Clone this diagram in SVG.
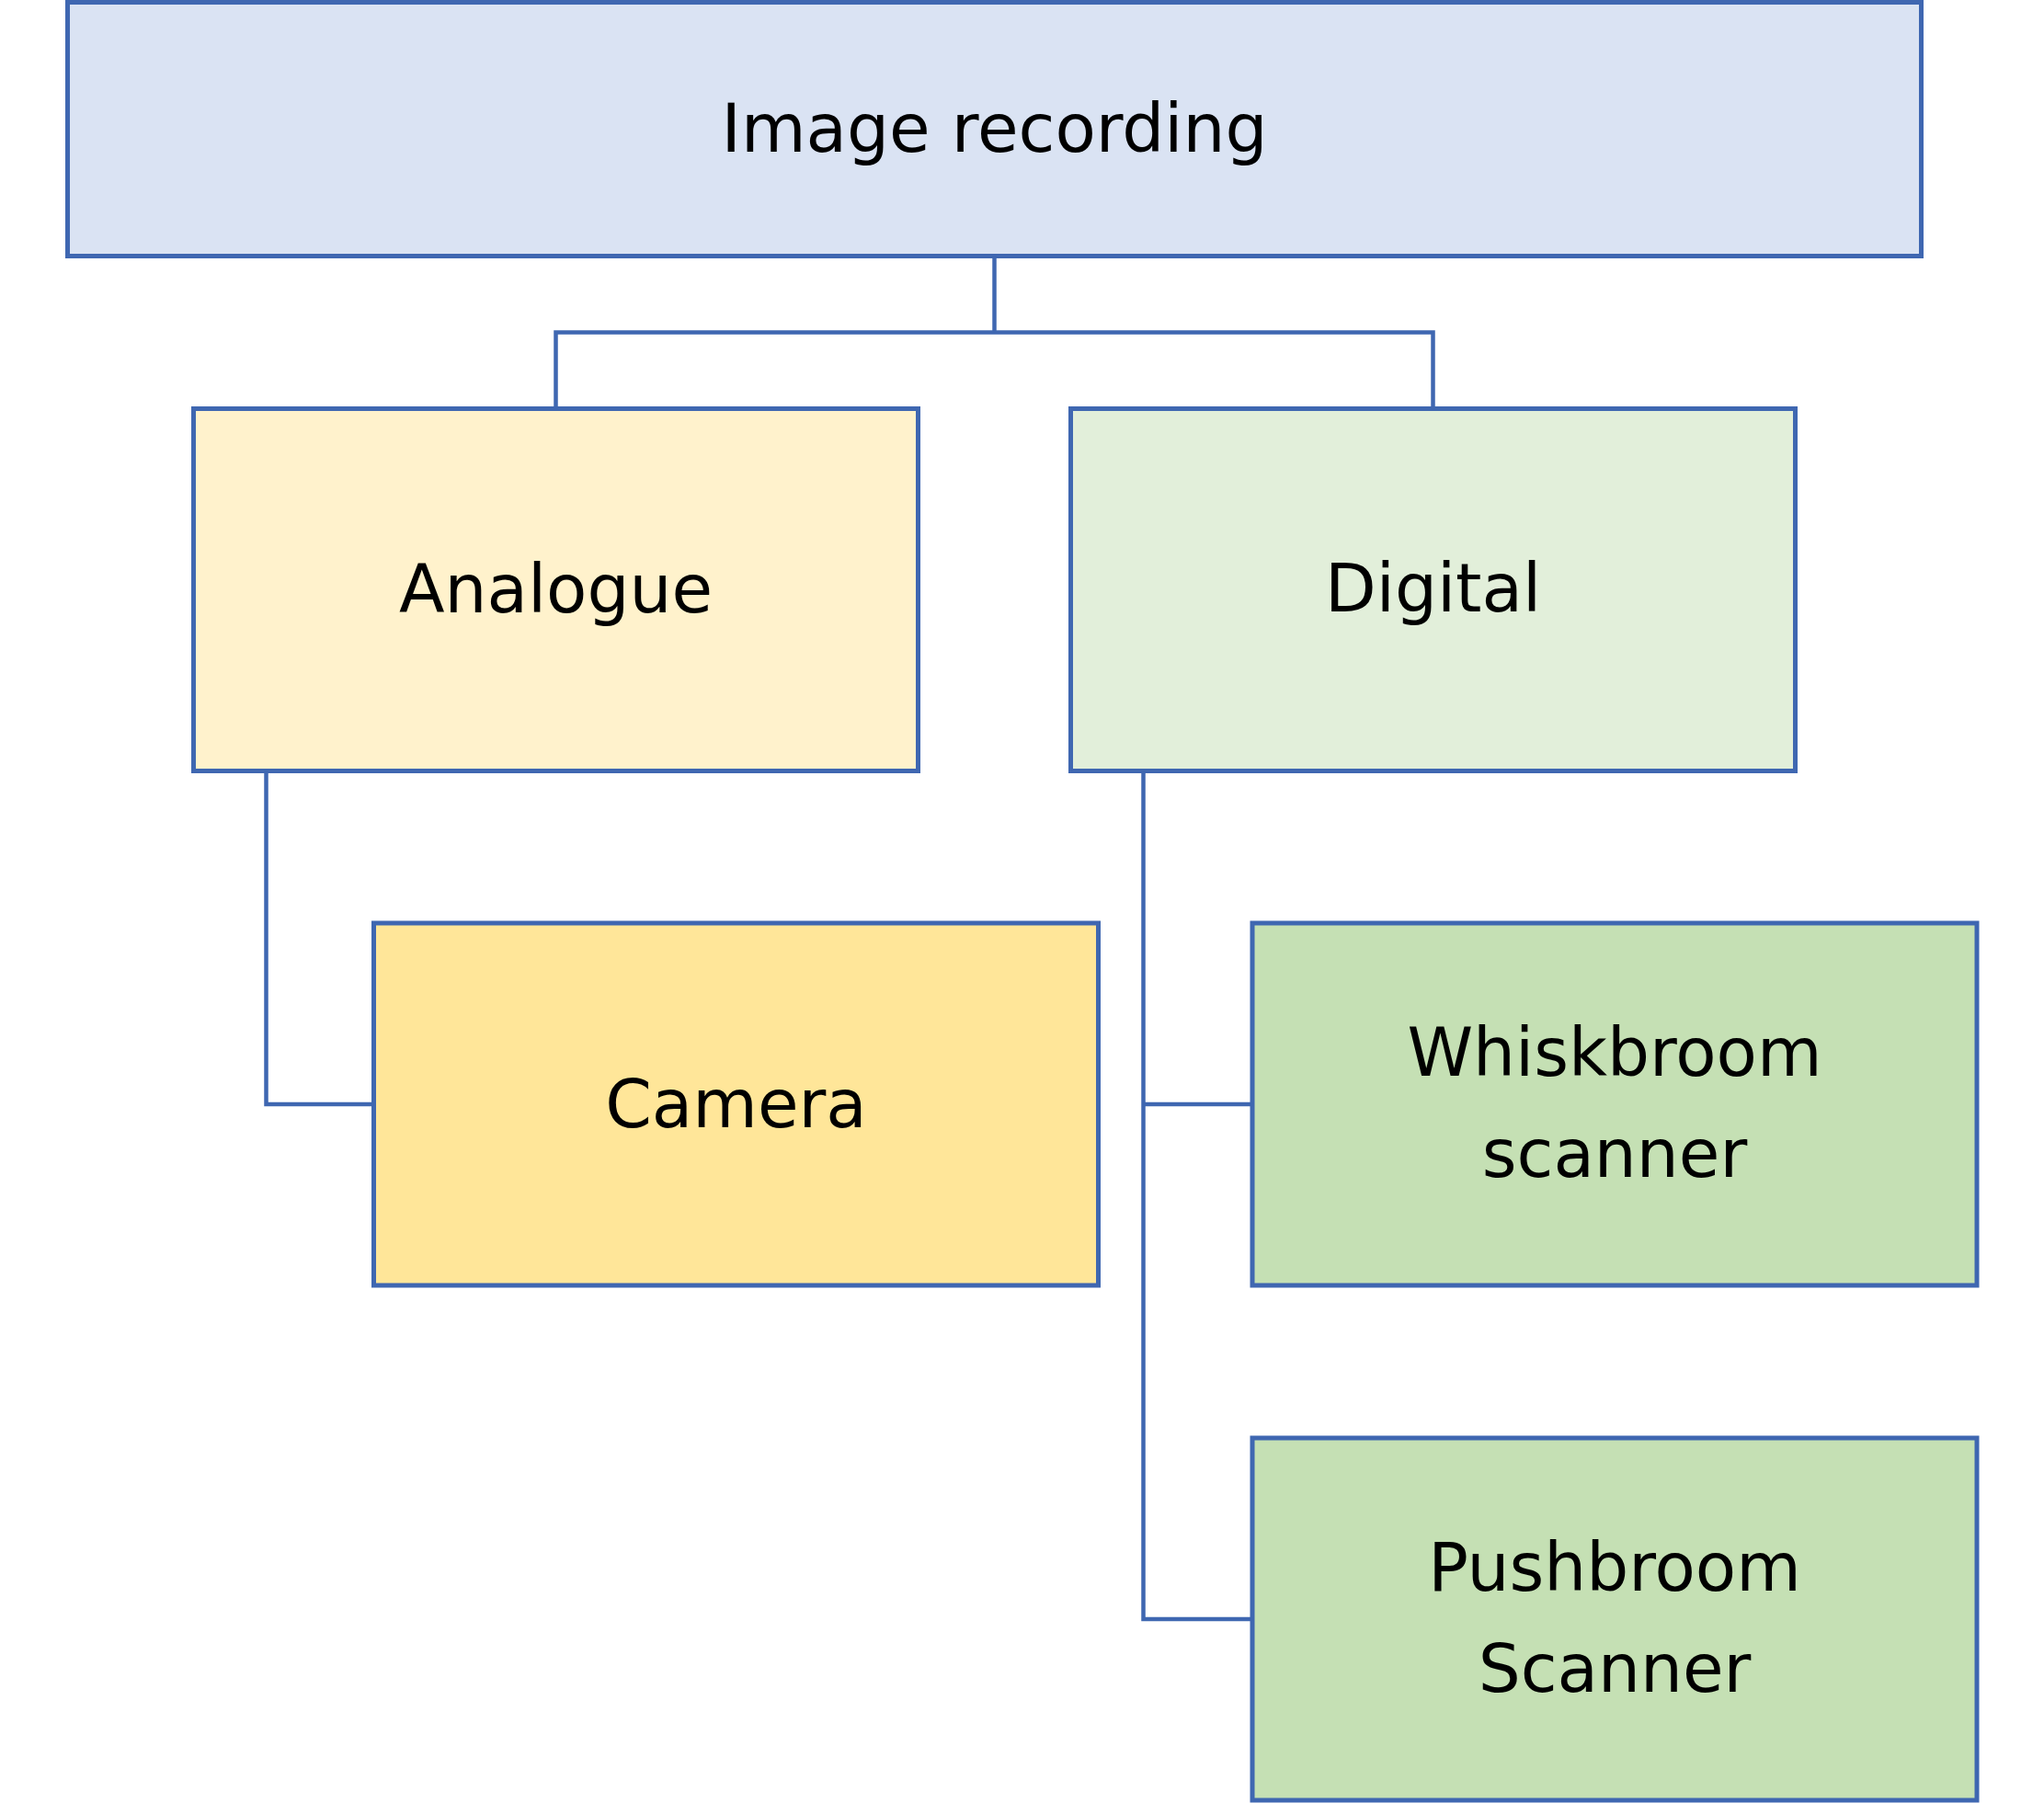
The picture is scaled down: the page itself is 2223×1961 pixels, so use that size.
<svg xmlns="http://www.w3.org/2000/svg" width="2223" height="1961" viewBox="0 0 2223 1961">
<style>
.box{stroke:#3F67B1;stroke-width:5}
.lbl{font-family:"DejaVu Sans","Verdana",sans-serif;font-size:72.5px;fill:#000;text-anchor:middle}
.conn{fill:none;stroke:#3F67B1;stroke-width:4.5;stroke-linejoin:miter}
</style>
<rect width="2223" height="1961" fill="#FFFFFF"/>
<g id="connectors">
<path class="conn" d="M1081.5 278.5 V361.5"/>
<path class="conn" d="M604.5 444.5 V361.5 H1558.5 V444.5"/>
<path class="conn" d="M289.5 838.5 V1201 H406.5"/>
<path class="conn" d="M1243.5 838.5 V1761 H1362"/>
<path class="conn" d="M1243.5 1201 H1362"/>
</g>
<g id="image-recording">
<rect class="box" x="73.5" y="2.5" width="2016" height="276" fill="#DAE3F3"/>
<text class="lbl" x="1081.5" y="165">Image recording</text>
</g>
<g id="analogue">
<rect class="box" x="210.5" y="444.5" width="788" height="394" fill="#FFF2CC"/>
<text class="lbl" x="604.5" y="666">Analogue</text>
</g>
<g id="digital">
<rect class="box" x="1164.5" y="444.5" width="788" height="394" fill="#E2EFDA"/>
<text class="lbl" x="1558.5" y="665">Digital</text>
</g>
<g id="camera">
<rect class="box" x="406.5" y="1004" width="788" height="394" fill="#FFE699"/>
<text class="lbl" x="800.5" y="1226">Camera</text>
</g>
<g id="whiskbroom">
<rect class="box" x="1362" y="1004" width="788" height="394" fill="#C5E0B4"/>
<text class="lbl" x="1756" y="1170">Whiskbroom</text>
<text class="lbl" x="1756" y="1280">scanner</text>
</g>
<g id="pushbroom">
<rect class="box" x="1362" y="1564" width="788" height="394" fill="#C5E0B4"/>
<text class="lbl" x="1756" y="1730">Pushbroom</text>
<text class="lbl" x="1756" y="1840">Scanner</text>
</g>
</svg>
